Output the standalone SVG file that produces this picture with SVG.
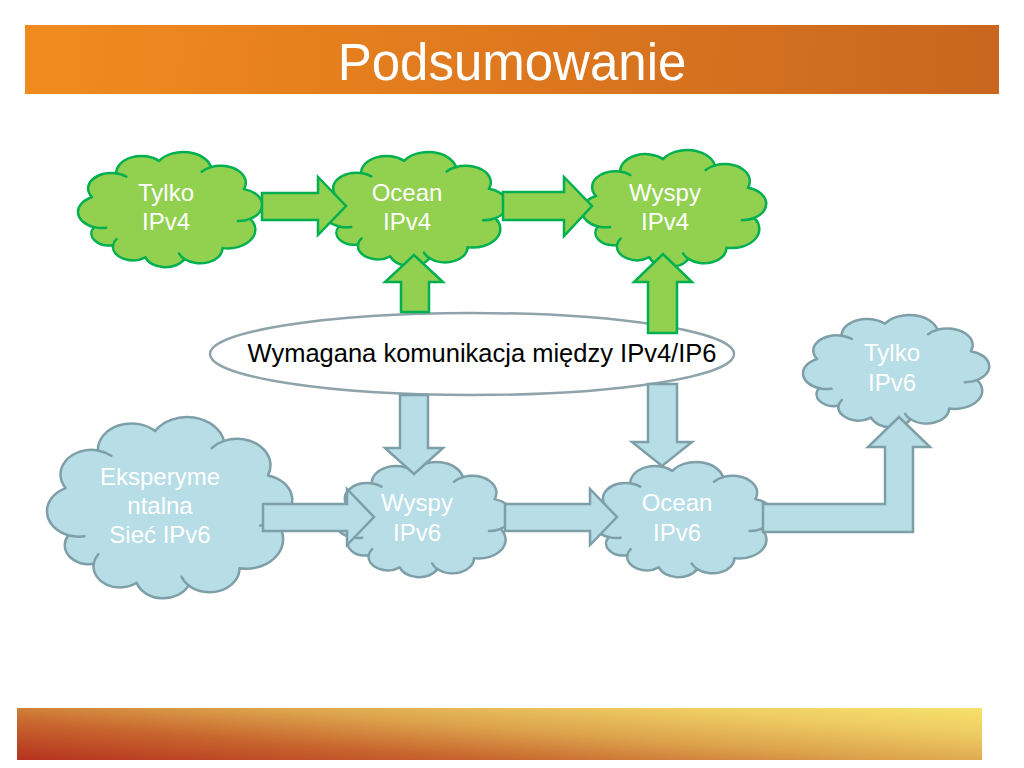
<svg xmlns="http://www.w3.org/2000/svg" width="1024" height="768" viewBox="0 0 1024 768">
<style>
.cb{vector-effect:non-scaling-stroke;stroke-width:2.5;stroke-linejoin:round}
.cf{fill:none;vector-effect:non-scaling-stroke;stroke-width:2.5;stroke-linecap:round}
.green{fill:#92d050;stroke:#00b050}
.blue{fill:#b7dde6;stroke:#7e9fa7}
.ga{fill:#92d050;stroke:#00b050;stroke-width:2.5}
.ba{fill:#b7dde6;stroke:#7e9fa7;stroke-width:2.5}
.lbl{font-family:"Liberation Sans",Arial,sans-serif;font-size:24px;fill:#ffffff;text-anchor:middle}
.title{font-family:"Liberation Sans",Arial,sans-serif;font-size:51px;fill:#ffffff;text-anchor:middle}
.etxt{font-family:"Liberation Sans",Arial,sans-serif;font-size:25.5px;fill:#000000;text-anchor:middle}
</style>
<defs>
<linearGradient id="gTitle" gradientUnits="userSpaceOnUse" x1="25" y1="25" x2="999" y2="94">
<stop offset="0" stop-color="#f28b1e"/>
<stop offset="1" stop-color="#c9661f"/>
</linearGradient>
<linearGradient id="gFoot" gradientUnits="userSpaceOnUse" x1="17" y1="760" x2="27" y2="634">
<stop offset="0" stop-color="#b5321f"/>
<stop offset="0.3" stop-color="#c8662e"/>
<stop offset="0.55" stop-color="#dca24c"/>
<stop offset="0.8" stop-color="#eecb62"/>
<stop offset="1" stop-color="#f6e06a"/>
</linearGradient>
<symbol id="cloud" viewBox="-0.1 3.2 99.8 92.6" preserveAspectRatio="none" style="overflow:visible">
<path class="cb" d="M7.5,39.6 A12.6,12.6 0 0 1 20.6,20.3 A13.7,13.7 0 0 1 43.9,10.4 A15.4,15.4 0 0 1 72,15.4 A13.6,13.6 0 0 1 89.9,33.1 A13,13 0 0 1 93.3,57 A15.1,15.1 0 0 1 78.3,80.6 A12.2,12.2 0 0 1 57.6,89.4 A11.4,11.4 0 0 1 36.4,88 A10.8,10.8 0 0 1 18.9,78.3 A9.7,9.7 0 0 1 8.6,63.7 A13,13 0 0 1 7.5,39.6 Z"/>
<path class="cf" d="M8.6,63.7 A13,13 0 0 0 15.2,64.2 M93.3,57 A13,13 0 0 1 86.7,58.7 M20.6,20.3 A12.6,12.6 0 0 1 26.1,23 M57.6,89.4 A12.2,12.2 0 0 1 54.7,84.9 M72,15.4 A13.6,13.6 0 0 0 67,19.1 M18.9,78.3 A10.8,10.8 0 0 1 20.8,73.4"/>
</symbol>
</defs>

<g id="title-bar">
<rect x="25" y="25" width="974" height="69" fill="url(#gTitle)"/>
<text class="title" x="512" y="80">Podsumowanie</text>
</g>
<g id="footer-bar">
<rect x="17" y="708" width="965" height="52" fill="url(#gFoot)"/>
</g>

<g id="node-tylko-ipv4">
<use href="#cloud" class="green" x="78" y="152" width="184" height="115"/>
<text class="lbl" x="166" y="201">Tylko</text>
<text class="lbl" x="166" y="230">IPv4</text>
</g>
<g id="node-ocean-ipv4">
<use href="#cloud" class="green" x="323" y="152" width="184" height="114"/>
<text class="lbl" x="407" y="201">Ocean</text>
<text class="lbl" x="407" y="230">IPv4</text>
</g>
<g id="node-wyspy-ipv4">
<use href="#cloud" class="green" x="582" y="150" width="184" height="117"/>
<text class="lbl" x="665" y="201">Wyspy</text>
<text class="lbl" x="665" y="230">IPv4</text>
</g>
<g id="node-eksperymentalna">
<use href="#cloud" class="blue" x="47" y="417" width="245" height="181"/>
<text class="lbl" x="160" y="485">Eksperyme</text>
<text class="lbl" x="160" y="514">ntalna</text>
<text class="lbl" x="160" y="543">Sieć IPv6</text>
</g>
<g id="node-wyspy-ipv6">
<use href="#cloud" class="blue" x="335" y="462" width="177" height="115"/>
<text class="lbl" x="417" y="511">Wyspy</text>
<text class="lbl" x="417" y="541">IPv6</text>
</g>
<g id="node-ocean-ipv6">
<use href="#cloud" class="blue" x="593" y="462" width="180" height="115"/>
<text class="lbl" x="677" y="511">Ocean</text>
<text class="lbl" x="677" y="541">IPv6</text>
</g>
<g id="node-tylko-ipv6">
<use href="#cloud" class="blue" x="803" y="315" width="186" height="112"/>
<text class="lbl" x="892" y="361">Tylko</text>
<text class="lbl" x="892" y="391">IPv6</text>
</g>
<g id="node-komunikacja">
<ellipse cx="472" cy="354" rx="262" ry="41" fill="#ffffff" stroke="#8ea3aa" stroke-width="2.5"/>
<text class="etxt" x="482" y="362">Wymagana komunikacja między IPv4/IP6</text>
</g>

<g id="connectors">
<polygon class="ga" points="262,193 318,193 318,177 346,206 318,235 318,220 262,220"/>
<polygon class="ga" points="503,192 564,192 564,177 592,206 564,236 564,220 503,220"/>
<polygon class="ga" points="401,312 401,282 385,282 414,255 443,282 429,282 429,312"/>
<polygon class="ga" points="648,333 648,282 634,282 663,254 692,282 677,282 677,333"/>
<polygon class="ba" points="400,395 428,395 428,448 443,448 414,474 385,448 400,448"/>
<polygon class="ba" points="648,384 677,384 677,442 692,442 662,466 632,442 648,442"/>
<polygon class="ba" points="263,504 347,504 347,489 374,517 347,545 347,531 263,531"/>
<polygon class="ba" points="505,504 590,504 590,489 617,517 590,545 590,531 505,531"/>
<polygon class="ba" points="763,504 885,504 885,447 868,447 899,417 930,447 913,447 913,532 763,532"/>
</g>
</svg>
